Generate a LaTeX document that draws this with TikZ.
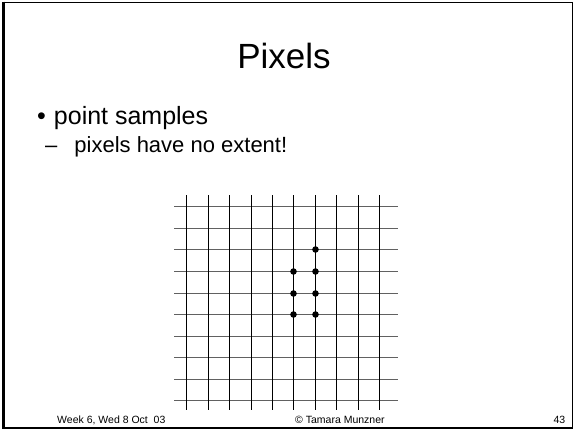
\documentclass[tikz,border=0pt]{standalone}
\usepackage{fontspec}
\setmainfont{Liberation Sans}
\usepackage{tikz}
\usetikzlibrary{positioning}
\newcommand{\slidefont}[1]{\fontsize{#1}{#1}\selectfont}

\begin{document}
\begin{tikzpicture}[x=1pt,y=-1pt,inner sep=0pt]
\useasboundingbox (0,0) rectangle (574,430);
% slide frame
\draw[line width=1.6pt] (3,2.5) rectangle (572.3,427.8);
\draw[line width=3pt] (3.2,1.7) -- (3.2,429);
% text
\node[anchor=base,font=\slidefont{35}] (title) at (284,69) {Pixels};
\node[anchor=base west,font=\slidefont{25}] (bullet) at (37,125) {•\hspace{8pt}point samples};
\node[anchor=base west,font=\slidefont{22}] (sub) at (45,153) {–\hspace{17pt}pixels have no extent!};
% sample grid
\foreach \y in {206.5,228.5,249.5,271.5,293.5,314.5,336.5,357.5,379.5,400.5} { \draw[black!62,line width=1.6pt] (174,\y) -- (398,\y); }
\foreach \x in {186.5,208.5,229.5,251.5,272.5,293.5,315.5,336.5,358.5,379.5} { \draw[line width=1.2pt] (\x,195.5) -- (\x,410); }
\foreach \x/\y in {315.5/249.5,293.5/271.5,315.5/271.5,293.5/293.5,315.5/293.5,293.5/314.5,315.5/314.5} { \fill (\x,\y) circle (3.3pt); }
% footer
\node[anchor=base west,font=\slidefont{10.5}] (footleft) at (57,424) {Week 6, Wed 8 Oct~~03};
\node[anchor=base west,font=\slidefont{10.5}] (footmid) at (295,424) {© Tamara Munzner};
\node[anchor=base east,font=\slidefont{10.5}] (pagenum) at (565.5,424) {43};
\end{tikzpicture}
\end{document}
